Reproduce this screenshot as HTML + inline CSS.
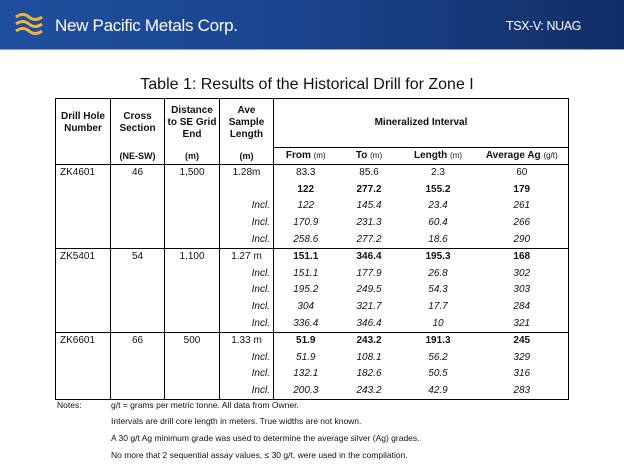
<!DOCTYPE html>
<html><head><meta charset="utf-8">
<style>
body{margin:0;width:624px;height:469px;background:#fff;position:relative;overflow:hidden;font-family:"Liberation Sans",sans-serif;}
#hdr{position:absolute;left:0;top:0;width:624px;height:49px;background:linear-gradient(90deg,#1f4f9e 0%,#1a438c 50%,#112d66 100%);border-bottom:1px solid #8da3c8;}
#brand{position:absolute;left:55px;top:16px;color:#fff;font-size:17px;letter-spacing:-0.3px;}
#tick{position:absolute;left:506px;top:19px;color:#fff;font-size:12.5px;letter-spacing:-0.4px;}
#title{position:absolute;left:0;width:614px;top:76px;text-align:center;font-size:16px;color:#111;}
table{position:absolute;left:55px;top:98px;border-collapse:collapse;table-layout:fixed;font-size:10px;color:#111;}
td{padding:0;text-align:center;border-left:1.5px solid #000;border-right:1.5px solid #000;height:16.6px;line-height:16px;}
td.m{border-left:none;border-right:none;}
td.m1{border-right:none;}
td.m4{border-left:none;}
.h1 td{height:48px;font-weight:bold;line-height:12px;border-top:1.5px solid #000;}
.h2 td{height:16px;font-size:9px;font-weight:bold;}
.grp td{border-top:1.5px solid #000;}
.b{font-weight:bold;}
.i{font-style:italic;}
.incl{text-align:right;padding-right:3px;font-style:italic;}
.l{text-align:left;padding-left:4px;}
tr.last td{border-bottom:1.5px solid #000;}
.notes{position:absolute;font-size:8.5px;color:#111;}
</style></head><body>
<div id="hdr">
<svg style="position:absolute;left:14px;top:12px" width="30" height="26">
<path d="M2 5 Q9 0 15 5 T28 5" stroke="#f0b43c" stroke-width="3" fill="none"/>
<path d="M2 12 Q9 7 15 12 T28 12" stroke="#f0b43c" stroke-width="3" fill="none"/>
<path d="M2 19 Q9 14 15 19 T28 19" stroke="#f0b43c" stroke-width="3" fill="none"/>
</svg>
<div id="brand">New Pacific Metals Corp.</div>
<div id="tick">TSX-V: NUAG</div>
</div>
<div id="title">Table 1: Results of the Historical Drill for Zone I</div>
<table>
<colgroup><col style="width:55px"><col style="width:54px"><col style="width:55px"><col style="width:54px"><col style="width:64px"><col style="width:63px"><col style="width:75px"><col style="width:93px"></colgroup>
<tr class="h1">
<td>Drill Hole<br>Number</td><td>Cross<br>Section</td><td>Distance<br>to SE Grid<br>End</td><td>Ave<br>Sample<br>Length</td>
<td colspan="4" style="border-bottom:1.5px solid #000">Mineralized Interval</td></tr>
<tr class="h2">
<td></td><td>(NE-SW)</td><td>(m)</td><td>(m)</td>
<td class="m1" style="font-size:10px">From <span style="font-weight:normal;font-size:8px">(m)</span></td>
<td class="m" style="font-size:10px">To <span style="font-weight:normal;font-size:8px">(m)</span></td>
<td class="m" style="font-size:10px">Length <span style="font-weight:normal;font-size:8px">(m)</span></td>
<td class="m4" style="font-size:10px">Average Ag <span style="font-weight:normal;font-size:8px">(g/t)</span></td></tr>
<tr class="grp"><td class="l">ZK4601</td><td>46</td><td>1,500</td><td>1.28m</td><td class="m1">83.3</td><td class="m">85.6</td><td class="m">2.3</td><td class="m4">60</td></tr>
<tr class="b"><td></td><td></td><td></td><td></td><td class="m1">122</td><td class="m">277.2</td><td class="m">155.2</td><td class="m4">179</td></tr>
<tr class="i"><td></td><td></td><td></td><td class="incl">Incl.</td><td class="m1">122</td><td class="m">145.4</td><td class="m">23.4</td><td class="m4">261</td></tr>
<tr class="i"><td></td><td></td><td></td><td class="incl">Incl.</td><td class="m1">170.9</td><td class="m">231.3</td><td class="m">60.4</td><td class="m4">266</td></tr>
<tr class="i"><td></td><td></td><td></td><td class="incl">Incl.</td><td class="m1">258.6</td><td class="m">277.2</td><td class="m">18.6</td><td class="m4">290</td></tr>
<tr class="grp"><td class="l">ZK5401</td><td>54</td><td>1,100</td><td>1.27 m</td><td class="b m1">151.1</td><td class="b m">346.4</td><td class="b m">195.3</td><td class="b m4">168</td></tr>
<tr class="i"><td></td><td></td><td></td><td class="incl">Incl.</td><td class="m1">151.1</td><td class="m">177.9</td><td class="m">26.8</td><td class="m4">302</td></tr>
<tr class="i"><td></td><td></td><td></td><td class="incl">Incl.</td><td class="m1">195.2</td><td class="m">249.5</td><td class="m">54.3</td><td class="m4">303</td></tr>
<tr class="i"><td></td><td></td><td></td><td class="incl">Incl.</td><td class="m1">304</td><td class="m">321.7</td><td class="m">17.7</td><td class="m4">284</td></tr>
<tr class="i"><td></td><td></td><td></td><td class="incl">Incl.</td><td class="m1">336.4</td><td class="m">346.4</td><td class="m">10</td><td class="m4">321</td></tr>
<tr class="grp"><td class="l">ZK6601</td><td>66</td><td>500</td><td>1.33 m</td><td class="b m1">51.9</td><td class="b m">243.2</td><td class="b m">191.3</td><td class="b m4">245</td></tr>
<tr class="i"><td></td><td></td><td></td><td class="incl">Incl.</td><td class="m1">51.9</td><td class="m">108.1</td><td class="m">56.2</td><td class="m4">329</td></tr>
<tr class="i"><td></td><td></td><td></td><td class="incl">Incl.</td><td class="m1">132.1</td><td class="m">182.6</td><td class="m">50.5</td><td class="m4">316</td></tr>
<tr class="i last"><td></td><td></td><td></td><td class="incl">Incl.</td><td class="m1">200.3</td><td class="m">243.2</td><td class="m">42.9</td><td class="m4">283</td></tr>
</table>
<div class="notes" style="left:57px;top:400px">Notes:</div>
<div class="notes" style="left:111px;top:400px">g/t = grams per metric tonne. All data from Owner.</div>
<div class="notes" style="left:111px;top:416px">Intervals are drill core length in meters. True widths are not known.</div>
<div class="notes" style="left:111px;top:433px">A 30 g/t Ag minimum grade was used to determine the average silver (Ag) grades.</div>
<div class="notes" style="left:111px;top:450px">No more that 2 sequential assay values, ≤ 30 g/t, were used in the compilation.</div>
</body></html>
